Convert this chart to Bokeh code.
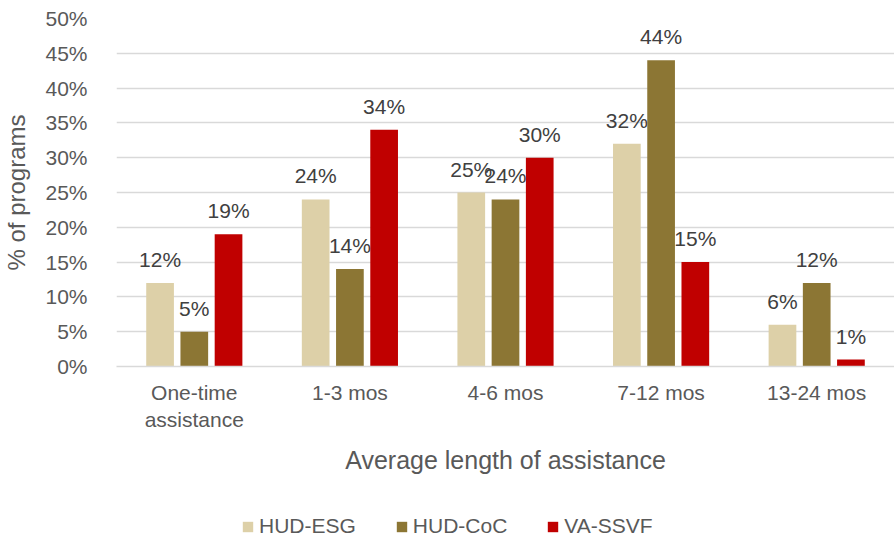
from bokeh.plotting import figure
from bokeh.layouts import column
from bokeh.models import ColumnDataSource, FactorRange, Legend, LegendItem, SingleIntervalTicker, PrintfTickFormatter
from bokeh.transform import dodge
from bokeh.embed import file_html
from bokeh.resources import INLINE
from bokeh.core.properties import value

categories = ["One-time\nassistance", "1-3 mos", "4-6 mos", "7-12 mos", "13-24 mos"]
series = ["HUD-ESG", "HUD-CoC", "VA-SSVF"]
hud_esg = [12, 24, 25, 32, 6]
hud_coc = [5, 14, 24, 44, 12]
va_ssvf = [19, 34, 30, 15, 1]
colors = ["#DDD0A8", "#8C7634", "#C00000"]

FONT = "Liberation Sans"

src = ColumnDataSource(dict(
    cat=categories,
    esg=hud_esg, coc=hud_coc, ssvf=va_ssvf,
    esg_l=[f"{v}%" for v in hud_esg],
    coc_l=[f"{v}%" for v in hud_coc],
    ssvf_l=[f"{v}%" for v in va_ssvf],
))

p = figure(width=894, height=490, x_range=FactorRange(*categories, range_padding=0),
           y_range=(0, 50), output_backend="svg", toolbar_location=None,
           min_border_left=113, min_border_right=0, min_border_top=18, min_border_bottom=124)
p.outline_line_color = None

offsets = [-0.22, 0.0, 0.22]
cols = ["esg", "coc", "ssvf"]
for off, c, col in zip(offsets, cols, colors):
    p.vbar(x=dodge("cat", off, range=p.x_range), top=c, width=0.178, source=src,
           fill_color=col, line_color=None)
    p.text(x=dodge("cat", off, range=p.x_range), y=c, text=c + "_l", source=src,
           text_align="center", text_baseline="bottom", y_offset=-12,
           text_font=value(FONT), text_font_size="21px", text_color="#404040")

p.yaxis.ticker = SingleIntervalTicker(interval=5)
p.yaxis.formatter = PrintfTickFormatter(format="%d%%")
p.yaxis.axis_line_color = None
p.yaxis.major_tick_line_color = None
p.yaxis.minor_tick_line_color = None
p.yaxis.major_label_text_font = FONT
p.yaxis.major_label_text_font_size = "21px"
p.yaxis.major_label_text_color = "#595959"
p.yaxis.major_label_standoff = 23
p.yaxis.axis_label = "% of programs"
p.yaxis.axis_label_text_font = FONT
p.yaxis.axis_label_text_font_size = "24px"
p.yaxis.axis_label_text_font_style = "normal"
p.yaxis.axis_label_text_color = "#595959"
p.yaxis.axis_label_standoff = 12

p.xaxis.axis_line_color = "#D9D9D9"
p.xaxis.axis_line_width = 1.5
p.xaxis.major_tick_line_color = None
p.xaxis.minor_tick_line_color = None
p.xaxis.major_label_text_font = FONT
p.xaxis.major_label_text_font_size = "21px"
p.xaxis.major_label_text_color = "#595959"
p.xaxis.major_label_standoff = 8
p.xaxis.axis_label = "Average length of assistance"
p.xaxis.axis_label_text_font = FONT
p.xaxis.axis_label_text_font_size = "25px"
p.xaxis.axis_label_text_font_style = "normal"
p.xaxis.axis_label_text_color = "#595959"
p.xaxis.axis_label_standoff = 12

p.xgrid.grid_line_color = None
p.ygrid.grid_line_color = "#D9D9D9"
p.ygrid.grid_line_width = 1.5

# legend strip below the chart (swatch renderers sit outside the visible range)
lg = figure(width=894, height=52, x_range=(0, 1), y_range=(0, 1), output_backend="svg",
            toolbar_location=None, min_border=0, min_border_left=0, min_border_right=0,
            min_border_top=0, min_border_bottom=0, x_axis_type=None, y_axis_type=None)
lg.outline_line_color = None
lg.xgrid.grid_line_color = None
lg.ygrid.grid_line_color = None
swatches = [lg.vbar(x=[-5], top=[-5], bottom=[-6], width=0.1, fill_color=col, line_color=None)
            for col in colors]
legend = Legend(items=[LegendItem(label=s, renderers=[r]) for s, r in zip(series, swatches)],
                orientation="horizontal", location=(125, 4),
                label_text_font=FONT, label_text_font_size="21px", label_text_color="#595959",
                glyph_width=13, glyph_height=13, spacing=39, label_standoff=5,
                border_line_color=None, background_fill_alpha=0, padding=0, margin=0)
lg.add_layout(legend, "center")

layout = column(p, lg, spacing=0)
open("out.html", "w").write(file_html(layout, INLINE))
